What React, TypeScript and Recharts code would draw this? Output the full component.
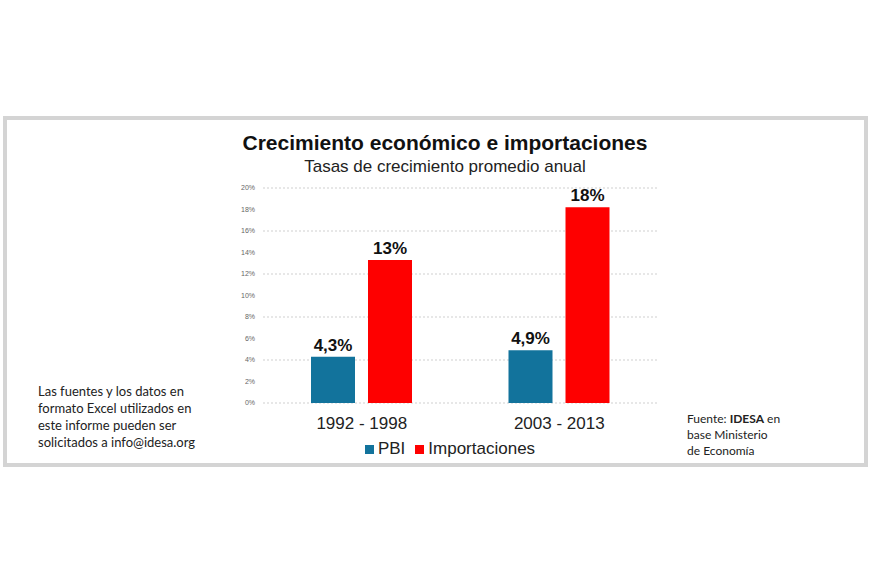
import { BarChart, Bar, XAxis, YAxis, CartesianGrid, Legend, LabelList } from "recharts";

const periods = ["1992 - 1998", "2003 - 2013"];
const pbi = [4.3, 4.9];
const importaciones = [13.3, 18.2];
const yTicks = [0, 2, 4, 6, 8, 10, 12, 14, 16, 18, 20];

const data = periods.map((p, i) => ({
  period: p,
  pbi: pbi[i],
  imp: importaciones[i],
}));

const FONT = "'Liberation Sans', Arial, sans-serif";
const NOTE_FONT = "Lato, 'Open Sans', sans-serif";

export default function App() {
  return (
    <div
      style={{
        position: "absolute",
        left: 0,
        top: 0,
        width: 870,
        height: 580,
        background: "#fff",
        overflow: "hidden",
      }}
    >
      {/* gray frame */}
      <div
        style={{
          position: "absolute",
          left: 3,
          top: 116,
          width: 865,
          height: 351,
          border: "4px solid #d4d4d4",
          boxSizing: "border-box",
        }}
      />
      <div
        style={{
          position: "absolute",
          left: 0,
          width: 890,
          top: 131,
          textAlign: "center",
          fontFamily: FONT,
          fontWeight: "bold",
          fontSize: 21,
          color: "#111",
        }}
      >
        Crecimiento económico e importaciones
      </div>
      <div
        style={{
          position: "absolute",
          left: 0,
          width: 890,
          top: 157,
          textAlign: "center",
          fontFamily: FONT,
          fontSize: 17,
          color: "#222",
        }}
      >
        Tasas de crecimiento promedio anual
      </div>

      <div style={{ position: "absolute", left: 0, top: 0 }}>
        <BarChart
          width={870}
          height={580}
          data={data}
          margin={{ top: 188, right: 212, bottom: 147, left: 223 }}
          barSize={44}
          barGap={13}
        >
          <CartesianGrid vertical={false} stroke="#cfcfcf" strokeDasharray="2 2" />
          <XAxis
            dataKey="period"
            axisLine={false}
            tickLine={false}
            height={30}
            tickMargin={8}
            tick={{ fontSize: 17, fill: "#222", fontFamily: FONT }}
          />
          <YAxis
            width={40}
            domain={[0, 20]}
            ticks={yTicks}
            axisLine={false}
            tickLine={false}
            tickFormatter={(v) => `${v}%`}
            tick={{ fontSize: 7, fill: "#666", fontFamily: FONT }}
          />
          <Legend
            layout="horizontal"
            verticalAlign="middle"
            align="center"
            iconType="square"
            iconSize={9}
            itemSorter={(item: any) => (item.value === "PBI" ? 0 : 1)}
            wrapperStyle={{ top: 439, left: 345, width: 220, fontFamily: FONT, fontSize: 17 }}
            formatter={(v) => <span style={{ color: "#222" }}>{v}</span>}
          />
          <Bar dataKey="pbi" name="PBI" fill="#12739c" isAnimationActive={false}>
            <LabelList
              dataKey="pbi"
              position="top"
              offset={6}
              formatter={(v: any) => `${Number(v).toFixed(1).replace(".", ",")}%`}
              style={{ fontSize: 17, fontWeight: "bold", fill: "#111", fontFamily: FONT }}
            />
          </Bar>
          <Bar dataKey="imp" name="Importaciones" fill="#fe0000" isAnimationActive={false}>
            <LabelList
              dataKey="imp"
              position="top"
              offset={6}
              formatter={(v: any) => `${Math.round(Number(v))}%`}
              style={{ fontSize: 17, fontWeight: "bold", fill: "#111", fontFamily: FONT }}
            />
          </Bar>
        </BarChart>
      </div>

      <div
        style={{
          position: "absolute",
          left: 38,
          top: 383,
          fontFamily: NOTE_FONT,
          fontSize: 13,
          lineHeight: "17px",
          color: "#222",
        }}
      >
        Las fuentes y los datos en
        <br />
        formato Excel utilizados en
        <br />
        este informe pueden ser
        <br />
        solicitados a info@idesa.org
      </div>
      <div
        style={{
          position: "absolute",
          left: 687,
          top: 411,
          fontFamily: NOTE_FONT,
          fontSize: 12,
          lineHeight: "16px",
          color: "#222",
        }}
      >
        Fuente: <b>IDESA</b> en
        <br />
        base Ministerio
        <br />
        de Economía
      </div>
    </div>
  );
}
